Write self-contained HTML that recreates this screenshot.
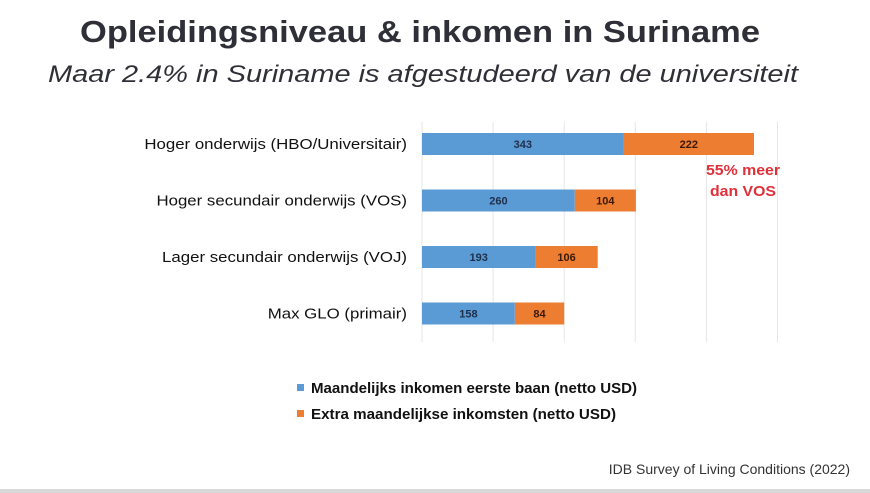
<!DOCTYPE html>
<html><head><meta charset="utf-8"><style>
html,body{margin:0;padding:0;background:#fff;}
svg{display:block;font-family:"Liberation Sans",sans-serif;}
</style></head><body>
<svg id="c" width="870" height="493" viewBox="0 0 870 493">
<text x="420" y="42" text-anchor="middle" font-size="31" font-weight="bold" fill="#2f2f38" textLength="680" lengthAdjust="spacingAndGlyphs">Opleidingsniveau &amp; inkomen in Suriname</text>
<text x="423" y="82" text-anchor="middle" font-size="24" font-style="italic" fill="#2f2f38" textLength="750" lengthAdjust="spacingAndGlyphs">Maar 2.4% in Suriname is afgestudeerd van de universiteit</text>
<g id="grid"></g>
<g id="bars"></g>
<text x="706" y="175" font-size="15" font-weight="bold" fill="#e0303a" textLength="74" lengthAdjust="spacingAndGlyphs">55% meer</text>
<text x="710" y="196" font-size="15" font-weight="bold" fill="#e0303a" textLength="66" lengthAdjust="spacingAndGlyphs">dan VOS</text>
<g>
<rect x="297" y="384" width="7" height="7" fill="#5b9bd5"/>
<text x="311" y="393" font-size="15" font-weight="bold" fill="#111" textLength="326" lengthAdjust="spacingAndGlyphs">Maandelijks inkomen eerste baan (netto USD)</text>
<rect x="297" y="410" width="7" height="7" fill="#ed7d31"/>
<text x="311" y="419" font-size="15" font-weight="bold" fill="#111" textLength="305" lengthAdjust="spacingAndGlyphs">Extra maandelijkse inkomsten (netto USD)</text>
</g>
<text x="850" y="474" text-anchor="end" font-size="14" fill="#333">IDB Survey of Living Conditions (2022)</text>
<rect x="0" y="489" width="870" height="4" fill="#d8d8d8"/>
</svg>
<script>
const categories=["Hoger onderwijs (HBO/Universitair)","Hoger secundair onderwijs (VOS)","Lager secundair onderwijs (VOJ)","Max GLO (primair)"];
const baseValues=[343,260,193,158];
const extraValues=[222,104,106,84];
const gridTicks=[0,121,242,363,484,605];
const NS="http://www.w3.org/2000/svg";
const x0=422,scale=332/565,y0=133,step=56.5,bh=22;
const xS=v=>x0+v*scale;
const yS=i=>y0+i*step;
function mk(t,a){const e=document.createElementNS(NS,t);for(const k in a)e.setAttribute(k,a[k]);return e;}
const grid=document.getElementById('grid'),bars=document.getElementById('bars');
gridTicks.forEach(t=>{const l=mk('line',{x1:xS(t),x2:xS(t),y1:122,y2:342,stroke:'#e6e6e6','stroke-width':1});


grid.appendChild(l);});
categories.forEach((c,i)=>{
const y=yS(i);
const lab=mk('text',{x:407,y:y+bh/2+5,'text-anchor':'end','font-size':14.5,fill:'#111'});lab.textContent=c;


bars.appendChild(lab);
const w=lab.getComputedTextLength();
if(w>0){lab.setAttribute('textLength',w*1.16);lab.setAttribute('lengthAdjust','spacingAndGlyphs');}
const b=mk('rect',{x:xS(0),y:y,width:xS(baseValues[i])-xS(0),height:bh,fill:'#5b9bd5'});


bars.appendChild(b);
const e=mk('rect',{x:xS(baseValues[i]),y:y,width:xS(baseValues[i]+extraValues[i])-xS(baseValues[i]),height:bh,fill:'#ed7d31'});


bars.appendChild(e);
const t1=mk('text',{x:(xS(0)+xS(baseValues[i]))/2,y:y+bh/2+4,'text-anchor':'middle','font-size':11,'font-weight':'bold',fill:'#1f2f4a'});t1.textContent=baseValues[i];


bars.appendChild(t1);
const t2=mk('text',{x:(xS(baseValues[i])+xS(baseValues[i]+extraValues[i]))/2,y:y+bh/2+4,'text-anchor':'middle','font-size':11,'font-weight':'bold',fill:'#3a1a08'});t2.textContent=extraValues[i];


bars.appendChild(t2);
});
</script>
</body></html>
